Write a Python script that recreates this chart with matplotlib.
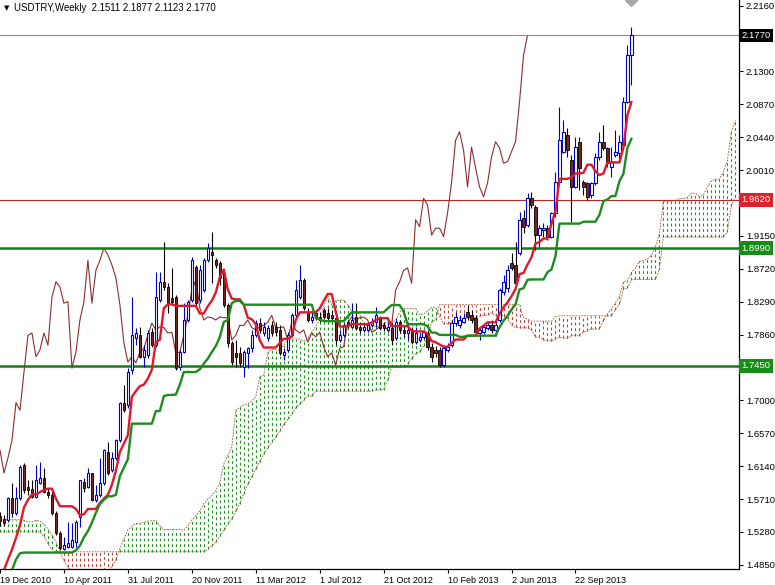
import matplotlib
matplotlib.use("Agg")
import matplotlib.pyplot as plt
import numpy as np
import pandas as pd

plt.rcParams['font.family'] = ['Liberation Sans', 'DejaVu Sans']

# weekly USDTRY bars, first bar = week of 19 Dec 2010
opens = [1.549, 1.545, 1.544, 1.572, 1.553, 1.572, 1.615, 1.587, 1.584, 1.574,
         1.592, 1.598, 1.580, 1.576, 1.553, 1.527, 1.506, 1.508, 1.508, 1.515,
         1.547, 1.593, 1.587, 1.605, 1.570, 1.576, 1.592, 1.632, 1.609, 1.625,
         1.648, 1.697, 1.694, 1.740, 1.781, 1.785, 1.757, 1.759, 1.789, 1.772,
         1.831, 1.855, 1.848, 1.834, 1.835, 1.744, 1.763, 1.805, 1.831, 1.874,
         1.831, 1.844, 1.883, 1.894, 1.883, 1.880, 1.866, 1.825, 1.775, 1.762,
         1.762, 1.744, 1.762, 1.768, 1.785, 1.801, 1.788, 1.781, 1.798, 1.796,
         1.792, 1.759, 1.766, 1.785, 1.811, 1.835, 1.857, 1.815, 1.805, 1.814,
         1.809, 1.818, 1.814, 1.811, 1.808, 1.779, 1.785, 1.802, 1.796, 1.809,
         1.796, 1.792, 1.792, 1.798, 1.802, 1.808, 1.798, 1.792, 1.795, 1.781,
         1.802, 1.792, 1.788, 1.792, 1.776, 1.779, 1.783, 1.788, 1.770, 1.766,
         1.766, 1.746, 1.766, 1.772, 1.801, 1.798, 1.802, 1.815, 1.811, 1.808,
         1.788, 1.789, 1.795, 1.798, 1.792, 1.805, 1.842, 1.847, 1.880, 1.877,
         1.893, 1.938, 1.929, 1.964, 1.953, 1.916, 1.923, 1.925, 1.914, 1.945,
         1.985, 2.025, 2.047, 2.014, 1.979, 2.038, 1.985, 1.984, 1.968, 1.984,
         2.018, 2.038, 2.030, 2.005, 2.021, 2.023, 2.034, 2.090, 2.1511]
highs = [1.554, 1.550, 1.574, 1.592, 1.587, 1.615, 1.618, 1.596, 1.596, 1.615,
         1.619, 1.612, 1.585, 1.581, 1.555, 1.529, 1.521, 1.541, 1.540, 1.544,
         1.596, 1.598, 1.612, 1.605, 1.589, 1.625, 1.636, 1.645, 1.632, 1.649,
         1.698, 1.720, 1.742, 1.835, 1.795, 1.796, 1.772, 1.792, 1.795, 1.868,
         1.868, 1.907, 1.853, 1.873, 1.838, 1.766, 1.827, 1.831, 1.887, 1.877,
         1.877, 1.886, 1.906, 1.920, 1.886, 1.882, 1.869, 1.827, 1.778, 1.779,
         1.770, 1.766, 1.770, 1.792, 1.805, 1.808, 1.802, 1.798, 1.804, 1.802,
         1.798, 1.768, 1.789, 1.814, 1.857, 1.877, 1.860, 1.821, 1.815, 1.818,
         1.815, 1.821, 1.821, 1.818, 1.810, 1.792, 1.801, 1.805, 1.827, 1.827,
         1.798, 1.800, 1.802, 1.808, 1.822, 1.810, 1.802, 1.802, 1.801, 1.808,
         1.805, 1.798, 1.802, 1.796, 1.796, 1.788, 1.792, 1.791, 1.775, 1.771,
         1.770, 1.772, 1.775, 1.805, 1.815, 1.812, 1.814, 1.825, 1.818, 1.811,
         1.795, 1.798, 1.802, 1.805, 1.805, 1.847, 1.864, 1.877, 1.893, 1.907,
         1.946, 1.949, 1.971, 1.972, 1.955, 1.929, 1.932, 1.929, 1.946, 1.998,
         2.083, 2.066, 2.056, 2.021, 2.044, 2.044, 1.988, 1.985, 1.985, 2.023,
         2.051, 2.060, 2.031, 2.031, 2.053, 2.047, 2.096, 2.164, 2.1877]
lows = [1.536, 1.536, 1.541, 1.547, 1.550, 1.570, 1.579, 1.576, 1.572, 1.572,
        1.591, 1.579, 1.572, 1.550, 1.524, 1.504, 1.504, 1.507, 1.507, 1.508,
        1.534, 1.580, 1.585, 1.568, 1.567, 1.574, 1.589, 1.602, 1.606, 1.622,
        1.645, 1.685, 1.690, 1.734, 1.772, 1.755, 1.744, 1.755, 1.770, 1.770,
        1.829, 1.844, 1.814, 1.825, 1.740, 1.740, 1.762, 1.802, 1.829, 1.825,
        1.827, 1.842, 1.881, 1.853, 1.873, 1.851, 1.822, 1.770, 1.746, 1.744,
        1.744, 1.730, 1.742, 1.763, 1.783, 1.788, 1.784, 1.778, 1.784, 1.784,
        1.759, 1.753, 1.763, 1.783, 1.809, 1.832, 1.818, 1.802, 1.801, 1.805,
        1.802, 1.806, 1.805, 1.805, 1.772, 1.776, 1.783, 1.795, 1.795, 1.792,
        1.788, 1.789, 1.789, 1.796, 1.796, 1.792, 1.791, 1.789, 1.772, 1.779,
        1.788, 1.783, 1.779, 1.774, 1.774, 1.776, 1.780, 1.766, 1.750, 1.757,
        1.744, 1.744, 1.763, 1.770, 1.797, 1.795, 1.801, 1.805, 1.801, 1.787,
        1.779, 1.787, 1.792, 1.788, 1.784, 1.802, 1.838, 1.842, 1.870, 1.851,
        1.890, 1.919, 1.927, 1.951, 1.896, 1.900, 1.914, 1.910, 1.912, 1.940,
        1.984, 2.023, 2.018, 1.933, 1.978, 1.975, 1.968, 1.962, 1.964, 1.981,
        2.014, 2.027, 2.005, 1.992, 2.018, 2.014, 2.031, 2.089, 2.1123]
closes = [1.542, 1.540, 1.572, 1.553, 1.572, 1.613, 1.583, 1.583, 1.574, 1.596,
          1.598, 1.580, 1.576, 1.553, 1.527, 1.507, 1.511, 1.513, 1.517, 1.541,
          1.596, 1.585, 1.605, 1.570, 1.576, 1.592, 1.635, 1.605, 1.625, 1.648,
          1.697, 1.687, 1.737, 1.785, 1.788, 1.757, 1.766, 1.788, 1.772, 1.835,
          1.855, 1.848, 1.827, 1.829, 1.742, 1.763, 1.805, 1.829, 1.883, 1.827,
          1.870, 1.883, 1.899, 1.890, 1.877, 1.860, 1.825, 1.775, 1.750, 1.757,
          1.749, 1.763, 1.768, 1.785, 1.801, 1.792, 1.796, 1.795, 1.788, 1.789,
          1.762, 1.763, 1.785, 1.811, 1.844, 1.857, 1.821, 1.805, 1.809, 1.808,
          1.805, 1.809, 1.808, 1.808, 1.779, 1.785, 1.798, 1.798, 1.805, 1.795,
          1.792, 1.796, 1.798, 1.802, 1.811, 1.795, 1.795, 1.796, 1.779, 1.802,
          1.792, 1.788, 1.792, 1.776, 1.788, 1.783, 1.789, 1.770, 1.757, 1.762,
          1.746, 1.768, 1.770, 1.801, 1.809, 1.805, 1.808, 1.809, 1.805, 1.789,
          1.792, 1.796, 1.798, 1.792, 1.798, 1.844, 1.855, 1.870, 1.873, 1.853,
          1.936, 1.927, 1.964, 1.955, 1.916, 1.925, 1.925, 1.914, 1.945, 1.985,
          2.040, 2.051, 2.027, 1.979, 2.031, 2.004, 1.979, 1.966, 1.984, 2.018,
          2.038, 2.030, 2.010, 2.012, 2.025, 2.038, 2.090, 2.151, 2.1770]

# indicator values at the left edge (their windows start before the first bar)
tenkan_lead = [1.470, 1.478, 1.492, 1.505, 1.520, 1.537, 1.560, 1.570]
kijun_lead = [1.470, 1.472, 1.474, 1.478, 1.492, 1.500, 1.501, 1.501, 1.501, 1.501,
              1.501, 1.501, 1.501, 1.501, 1.501, 1.501, 1.501, 1.501, 1.501, 1.504,
              1.510, 1.521, 1.529, 1.540, 1.553]
span_a_lead = [1.544, 1.544, 1.544, 1.544, 1.544, 1.544, 1.543, 1.541, 1.541, 1.543,
               1.542, 1.538, 1.532, 1.524, 1.515, 1.502, 1.490, 1.482, 1.476, 1.476,
               1.476, 1.476, 1.476, 1.476, 1.476, 1.476]
span_b_lead = [1.528, 1.528, 1.528, 1.528, 1.528, 1.528, 1.528, 1.528, 1.528, 1.528,
               1.528, 1.522, 1.512, 1.505, 1.502, 1.502, 1.502, 1.502, 1.502, 1.502,
               1.502, 1.502, 1.502, 1.502, 1.502, 1.502, 1.502, 1.502, 1.502, 1.502,
               1.502, 1.502, 1.502, 1.502, 1.502, 1.502, 1.502, 1.502, 1.502, 1.502,
               1.502, 1.502, 1.502, 1.502, 1.502, 1.502, 1.502, 1.502, 1.502, 1.502,
               1.502, 1.502, 1.505, 1.510, 1.515, 1.522, 1.530, 1.538, 1.545, 1.555,
               1.565, 1.578, 1.590, 1.600, 1.610, 1.620, 1.630, 1.638, 1.645, 1.652,
               1.660, 1.668, 1.675, 1.682, 1.690, 1.695, 1.700]

date_idx = [0, 16, 32, 48, 64, 80, 96, 112, 128, 144]
date_labels = ['19 Dec 2010', '10 Apr 2011', '31 Jul 2011', '20 Nov 2011', '11 Mar 2012',
               '1 Jul 2012', '21 Oct 2012', '10 Feb 2013', '2 Jun 2013', '22 Sep 2013']
price_ticks = [2.2160, 2.1300, 2.0870, 2.0440, 2.0010, 1.9150, 1.8720, 1.8290, 1.7860,
               1.7000, 1.6570, 1.6140, 1.5710, 1.5280, 1.4850]
levels = [1.9620, 1.8990, 1.7450]
level_colors = ['#B42828', '#137F13', '#137F13']
level_box_colors = ['#E0202A', '#168E16', '#168E16']
level_widths = [0.8, 1.8, 1.8]

o = np.array(opens)
h = np.array(highs)
l = np.array(lows)
c = np.array(closes)
n = len(c)
idx = np.arange(n)

# ichimoku lines
hs = pd.Series(h)
lw_s = pd.Series(l)
tenkan = ((hs.rolling(9).max() + lw_s.rolling(9).min()) / 2).to_numpy()
tenkan[:len(tenkan_lead)] = tenkan_lead
kijun = ((hs.rolling(26).max() + lw_s.rolling(26).min()) / 2).to_numpy()
kijun[:len(kijun_lead)] = kijun_lead
mid52 = ((hs.rolling(52).max() + lw_s.rolling(52).min()) / 2).to_numpy()
span_a = np.concatenate([span_a_lead, (tenkan + kijun) / 2])
span_b = np.concatenate([span_b_lead, mid52[51:]])
cx = np.arange(len(span_a))

fig = plt.figure(figsize=(7.75, 5.85), dpi=100)
ax = fig.add_axes([0, 16 / 585, 739 / 775, 569 / 585])
ax.set_xlim(0.175, 184.925)
ax.set_ylim(1.4795, 2.2233)

# cloud: dotted vertical hatch per bar
bull = span_a >= span_b
ax.vlines(cx[bull], span_b[bull], span_a[bull], colors='#1E961E', linewidth=0.8,
          linestyles=(0, (2.5, 2.5)), zorder=1)
ax.vlines(cx[~bull], span_a[~bull], span_b[~bull], colors='#B8443A', linewidth=0.8,
          linestyles=(0, (2.5, 2.5)), zorder=1)
ax.plot(cx, span_a, color='#A0522D', lw=0.6, ls=(0, (2, 1.5)), zorder=2)
ax.plot(cx, span_b, color='#A0522D', lw=0.6, ls=(0, (2, 1.5)), zorder=2)

# chikou span
ax.plot(idx - 26, c, color='#8B2E2E', lw=0.8, zorder=2)

# horizontal levels + bid line
ax.axhline(c[-1], color='#8C8C8C', lw=0.8, zorder=2)
for lev, col, wd in zip(levels, level_colors, level_widths):
    ax.axhline(lev, color=col, lw=wd, zorder=2)

# candles
up = c >= o
dn = ~up
ax.vlines(idx[up], l[up], h[up], color='#0000C8', lw=0.8, zorder=3)
ax.vlines(idx[dn], l[dn], h[dn], color='black', lw=0.8, zorder=3)
ax.bar(idx[up], c[up] - o[up], bottom=o[up], width=0.55, facecolor='white',
       edgecolor='#0000C8', linewidth=0.8, zorder=4)
ax.bar(idx[dn], o[dn] - c[dn], bottom=c[dn], width=0.55, facecolor='#7A2420',
       edgecolor='black', linewidth=0.6, zorder=4)

ax.plot(idx, tenkan, color='#E0182A', lw=1.7, zorder=5)
ax.plot(idx, kijun, color='#1E8B1E', lw=1.7, zorder=5)

# arrow object at the top
ax.plot([idx[-1]], [2.2233], marker='D', ms=6, color='#A8A8A8', clip_on=True, zorder=6)

# axes styling
for s in ['top', 'left']:
    ax.spines[s].set_visible(False)
for s in ['right', 'bottom']:
    ax.spines[s].set_linewidth(0.9)
ax.yaxis.tick_right()
ax.set_yticks(price_ticks)
ax.set_yticklabels(['%.4f' % p for p in price_ticks])
ax.set_xticks(date_idx)
ax.set_xticklabels(date_labels, ha='left')
ax.tick_params(axis='both', direction='out', length=3, width=0.8, labelsize=6.5, pad=2)
ax.tick_params(axis='y', labelsize=6.8)

tr = ax.get_yaxis_transform()
ax.text(1.003, c[-1], '%.4f' % c[-1], transform=tr, ha='left', va='center', color='white',
        fontsize=6.8, bbox=dict(boxstyle='square,pad=0.25', fc='black', ec='none'), zorder=10)
for lev, bc in zip(levels, level_box_colors):
    ax.text(1.003, lev, '%.4f' % lev, transform=tr, ha='left', va='center', color='white',
            fontsize=6.8, bbox=dict(boxstyle='square,pad=0.25', fc=bc, ec='none'), zorder=10)

fig.text(4 / 775, 1 - 8 / 585, '\u25bc', fontsize=5, family='DejaVu Sans', va='center')
fig.text(14 / 775, 1 - 8 / 585,
         'USDTRY,Weekly  %.4f %.4f %.4f %.4f' % (o[-1], h[-1], l[-1], c[-1]),
         fontsize=6.9, va='center')

fig.savefig('out.png', dpi=100)
